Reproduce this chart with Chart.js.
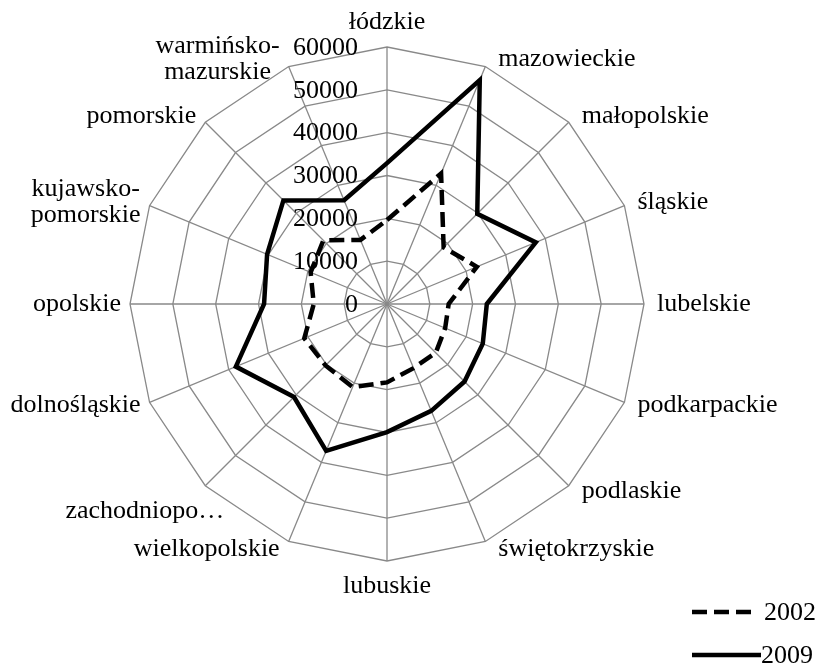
<!DOCTYPE html>
<html>
<head>
<meta charset="utf-8">
<script src="https://cdn.jsdelivr.net/npm/chart.js@4"></script>
<style>
  body { margin: 0; background: #fff; }
  #wrap { width: 823px; height: 669px; position: relative; }
</style>
</head>
<body>
<div id="wrap"><canvas id="myRadarChart"></canvas></div>
<script>
  const regions = ['łódzkie', 'mazowieckie', 'małopolskie', 'śląskie', 'lubelskie', 'podkarpackie',
    'podlaskie', 'świętokrzyskie', 'lubuskie', 'wielkopolskie', 'zachodniopo…', 'dolnośląskie',
    'opolskie', ['kujawsko-', 'pomorskie'], 'pomorskie', ['warmińsko-', 'mazurskie']];
  const values2002 = [19600, 33000, 18700, 22700, 14400, 14700, 16100, 16200,
    18300, 21000, 20300, 20900, 17100, 19300, 21000, 16200];
  const values2009 = [32900, 56600, 29800, 37600, 23300, 24200, 25600, 27000,
    29900, 37100, 30700, 38200, 28700, 30300, 34200, 26200];
  const tickValues = [0, 10000, 20000, 30000, 40000, 50000, 60000];

  const FONT = '26px "Liberation Serif", "Times New Roman", serif';

  // tick labels sit left of the vertical axis, point labels and legend done like Excel
  const excelText = {
    id: 'excelText',
    beforeDatasetsDraw(chart) {
      const s = chart.scales.r;
      const ctx = chart.ctx;
      ctx.save();
      ctx.font = FONT;
      ctx.fillStyle = '#000';
      ctx.textAlign = 'right';
      ctx.textBaseline = 'middle';
      tickValues.forEach(v => {
        const d = s.getDistanceFromCenterForValue(v);
        ctx.fillText(String(v), s.xCenter - 29, s.yCenter - d + 1);
      });
      ctx.restore();
    },
    afterDraw(chart) {
      const s = chart.scales.r;
      const ctx = chart.ctx;
      const r = s.getDistanceFromCenterForValue(s.max);
      const lh = 26;
      ctx.save();
      ctx.font = FONT;
      ctx.fillStyle = '#000';
      ctx.textBaseline = 'middle';
      regions.forEach((lab, i) => {
        const lines = Array.isArray(lab) ? lab : [lab];
        const p = s.getPointPosition(i, r);
        const a = s.getIndexAngle(i);
        const sin = Math.sin(a), cos = Math.cos(a);
        const maxW = Math.max(...lines.map(t => ctx.measureText(t).width));
        let cx, cy;
        if (Math.abs(sin) < 0.01) {
          cx = p.x;
          cy = p.y - cos * (12 + lines.length * lh / 2);
        } else if (sin > 0) {
          cx = p.x + 13 + maxW / 2;
          cy = p.y - cos * 8;
        } else {
          cx = p.x - 9 - maxW / 2;
          cy = p.y - cos * 8;
        }
        // Excel pushes the truncated label down and in
        if (i === 10) { cx += 28; cy += 20; }
        ctx.textAlign = 'center';
        lines.forEach((t, k) => {
          ctx.fillText(t, cx, cy + (k - (lines.length - 1) / 2) * lh);
        });
      });

      // legend, bottom right
      chart.data.datasets.forEach((ds, k) => {
        const y = 612 + k * 43;
        ctx.beginPath();
        ctx.lineWidth = ds.borderWidth;
        ctx.strokeStyle = ds.borderColor;
        ctx.setLineDash(ds.borderDash || []);
        ctx.moveTo(692, y);
        ctx.lineTo(k === 0 ? 751 : 761, y);
        ctx.stroke();
        ctx.setLineDash([]);
        ctx.textAlign = 'left';
        ctx.fillText(ds.label, k === 0 ? 764 : 761, y + 1);
      });
      ctx.restore();
    }
  };

  new Chart(document.getElementById('myRadarChart'), {
    type: 'radar',
    data: {
      labels: regions,
      datasets: [{
        label: '2002',
        data: values2002,
        borderColor: '#000',
        borderWidth: 4.5,
        borderDash: [15, 7],
        borderJoinStyle: 'miter',
        fill: false,
        pointRadius: 0,
        tension: 0
      }, {
        label: '2009',
        data: values2009,
        borderColor: '#000',
        borderWidth: 4.5,
        borderJoinStyle: 'miter',
        fill: false,
        pointRadius: 0,
        tension: 0
      }]
    },
    options: {
      responsive: true,
      maintainAspectRatio: false,
      animation: false,
      layout: {
        padding: { left: 130, top: 47, right: 179, bottom: 108 }
      },
      plugins: {
        legend: { display: false },
        tooltip: { enabled: false }
      },
      scales: {
        r: {
          min: 0,
          max: 60000,
          ticks: { stepSize: 10000, display: false },
          grid: { color: '#898989', lineWidth: 1.3 },
          angleLines: { color: '#898989', lineWidth: 1.3 },
          pointLabels: { display: false }
        }
      }
    },
    plugins: [excelText]
  });
</script>
</body>
</html>
